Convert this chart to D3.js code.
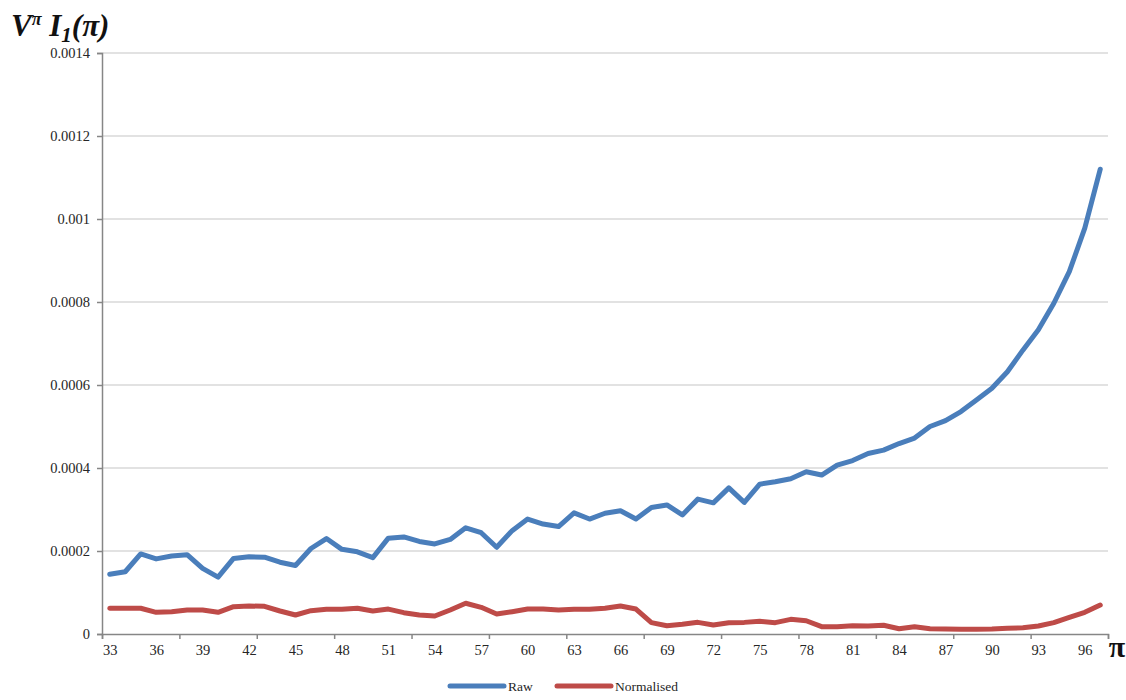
<!DOCTYPE html>
<html>
<head>
<meta charset="utf-8">
<script src="https://cdn.jsdelivr.net/npm/d3@7"></script>
<style>
  body { margin: 0; background: #fff; }
  svg { display: block; }
  text { font-family: "Liberation Serif", "DejaVu Serif", serif; fill: #262626; }
</style>
</head>
<body>
<script>
// chart values
var categories = d3.range(33, 98);
var rawValues = [
  0.000144, 0.000150, 0.000193, 0.000181, 0.000188, 0.000191, 0.000158, 0.000137, 0.000182, 0.000186,
  0.000185, 0.000173, 0.000165, 0.000206, 0.000230, 0.000204, 0.000198, 0.000184, 0.000231, 0.000234,
  0.000223, 0.000217, 0.000228, 0.000256, 0.000244, 0.000209, 0.000249, 0.000277, 0.000265, 0.000259,
  0.000292, 0.000277, 0.000291, 0.000297, 0.000277, 0.000305, 0.000311, 0.000287, 0.000325, 0.000316,
  0.000352, 0.000317, 0.000361, 0.000367, 0.000374, 0.000391, 0.000383, 0.000407, 0.000418, 0.000435,
  0.000443, 0.000459, 0.000472, 0.000500, 0.000514, 0.000536, 0.000564, 0.000592, 0.000632, 0.000684,
  0.000733, 0.000797, 0.000873, 0.000978, 0.001120
];
var normValues = [
  0.0000619, 0.0000620, 0.0000620, 0.0000523, 0.0000538, 0.0000578, 0.0000578, 0.0000523, 0.0000658, 0.0000675,
  0.0000667, 0.0000554, 0.0000458, 0.0000562, 0.0000595, 0.0000595, 0.0000620, 0.0000554, 0.0000600, 0.0000514,
  0.0000458, 0.0000434, 0.0000578, 0.0000740, 0.0000643, 0.0000482, 0.0000538, 0.0000602, 0.0000602, 0.0000578,
  0.0000595, 0.0000595, 0.0000620, 0.0000675, 0.0000602, 0.0000273, 0.0000200, 0.0000233, 0.0000281, 0.0000217,
  0.0000273, 0.0000280, 0.0000305, 0.0000273, 0.0000353, 0.0000320, 0.0000176, 0.0000176, 0.0000200, 0.0000193,
  0.0000210, 0.0000128, 0.0000176, 0.0000128, 0.0000120, 0.0000113, 0.0000113, 0.0000120, 0.0000137, 0.0000152,
  0.0000193, 0.0000273, 0.0000402, 0.0000523, 0.0000699
];
var yTicks = [0, 0.0002, 0.0004, 0.0006, 0.0008, 0.001, 0.0012, 0.0014];
var xLabels = d3.range(33, 98, 3);
var seriesNames = ["Raw", "Normalised"];
var seriesColors = ["#4a7ebb", "#be4b48"];

var plotLeft = 102, plotRight = 1108, plotTop = 53, plotBottom = 634;

var svg = d3.select("body").append("svg").attr("width", 1126).attr("height", 700);

var x = d3.scalePoint().domain(categories).range([plotLeft, plotRight]).padding(0.5);
var xBound = d3.scaleLinear().domain([0, categories.length]).range([plotLeft, plotRight]);
var y = d3.scaleLinear().domain([0, 0.0014]).range([plotBottom, plotTop]);

// gridlines
svg.append("g").selectAll("line")
  .data(yTicks.slice(1))
  .enter().append("line")
  .attr("x1", plotLeft).attr("x2", plotRight)
  .attr("y1", function(d){ return y(d); })
  .attr("y2", function(d){ return y(d); })
  .style("stroke", "#d9d9d9").style("stroke-width", 1.5);

// y axis
var yAxis = d3.axisLeft(y).tickValues(yTicks).tickSize(5).tickPadding(7)
  .tickFormat(function(d){ return String(+d.toFixed(4)); });
var yg = svg.append("g").attr("transform", "translate(" + plotLeft + ",0)").call(yAxis);
yg.select(".domain").style("stroke", "#868686").style("stroke-width", 1.5);
yg.selectAll(".tick line").style("stroke", "#868686").style("stroke-width", 1.5);
yg.selectAll(".tick text").style("font-size", "14.5px").style("font-family", "Liberation Serif, serif").attr("fill", "#333");

// x axis tick marks (category boundaries every 5)
var xTickAxis = d3.axisBottom(xBound).tickValues(d3.range(0, categories.length + 1, 5))
  .tickSize(5).tickFormat("");
var xg = svg.append("g").attr("transform", "translate(0," + plotBottom + ")").call(xTickAxis);
xg.select(".domain").style("stroke", "#868686").style("stroke-width", 1.5);
xg.selectAll(".tick line").style("stroke", "#868686").style("stroke-width", 1.5);

// x axis labels every 3 categories
var xLabelAxis = d3.axisBottom(x).tickValues(xLabels).tickSize(0).tickPadding(11);
var xl = svg.append("g").attr("transform", "translate(0," + plotBottom + ")").call(xLabelAxis);
xl.select(".domain").remove();
xl.selectAll(".tick text").style("font-size", "14.5px").style("font-family", "Liberation Serif, serif").attr("fill", "#333");

// lines
var line = d3.line()
  .x(function(d, i){ return x(categories[i]); })
  .y(function(d){ return y(d); });

[rawValues, normValues].forEach(function(vals, k){
  svg.append("path")
    .datum(vals)
    .attr("d", line)
    .style("fill", "none")
    .style("stroke", seriesColors[k])
    .style("stroke-width", 5)
    .style("stroke-linejoin", "round")
    .style("stroke-linecap", "round");
});

// axis titles
var yt = svg.append("text").attr("x", 11).attr("y", 36)
  .style("font-size", "31px").style("font-weight", "bold").style("font-style", "italic")
  .style("fill", "#111");
yt.append("tspan").text("V");
yt.append("tspan").attr("dy", -11).style("font-size", "18px").text("π");
yt.append("tspan").attr("dy", 11).text(" I");
yt.append("tspan").attr("dy", 6).style("font-size", "21px").text("1");
yt.append("tspan").attr("dy", -6).text("(π)");

svg.append("text").attr("x", 1117).attr("y", 657).attr("text-anchor", "middle")
  .style("font-size", "30px").style("font-weight", "bold").style("fill", "#111").text("π");

// legend
var legend = svg.append("g");
var legendX = [450, 557];
seriesNames.forEach(function(name, k){
  legend.append("line")
    .attr("x1", legendX[k]).attr("x2", legendX[k] + 54)
    .attr("y1", 686).attr("y2", 686)
    .style("stroke", seriesColors[k]).style("stroke-width", 5).style("stroke-linecap", "round");
  legend.append("text").attr("x", legendX[k] + 58).attr("y", 691)
    .style("font-size", "13.5px").text(name);
});
</script>
</body>
</html>
